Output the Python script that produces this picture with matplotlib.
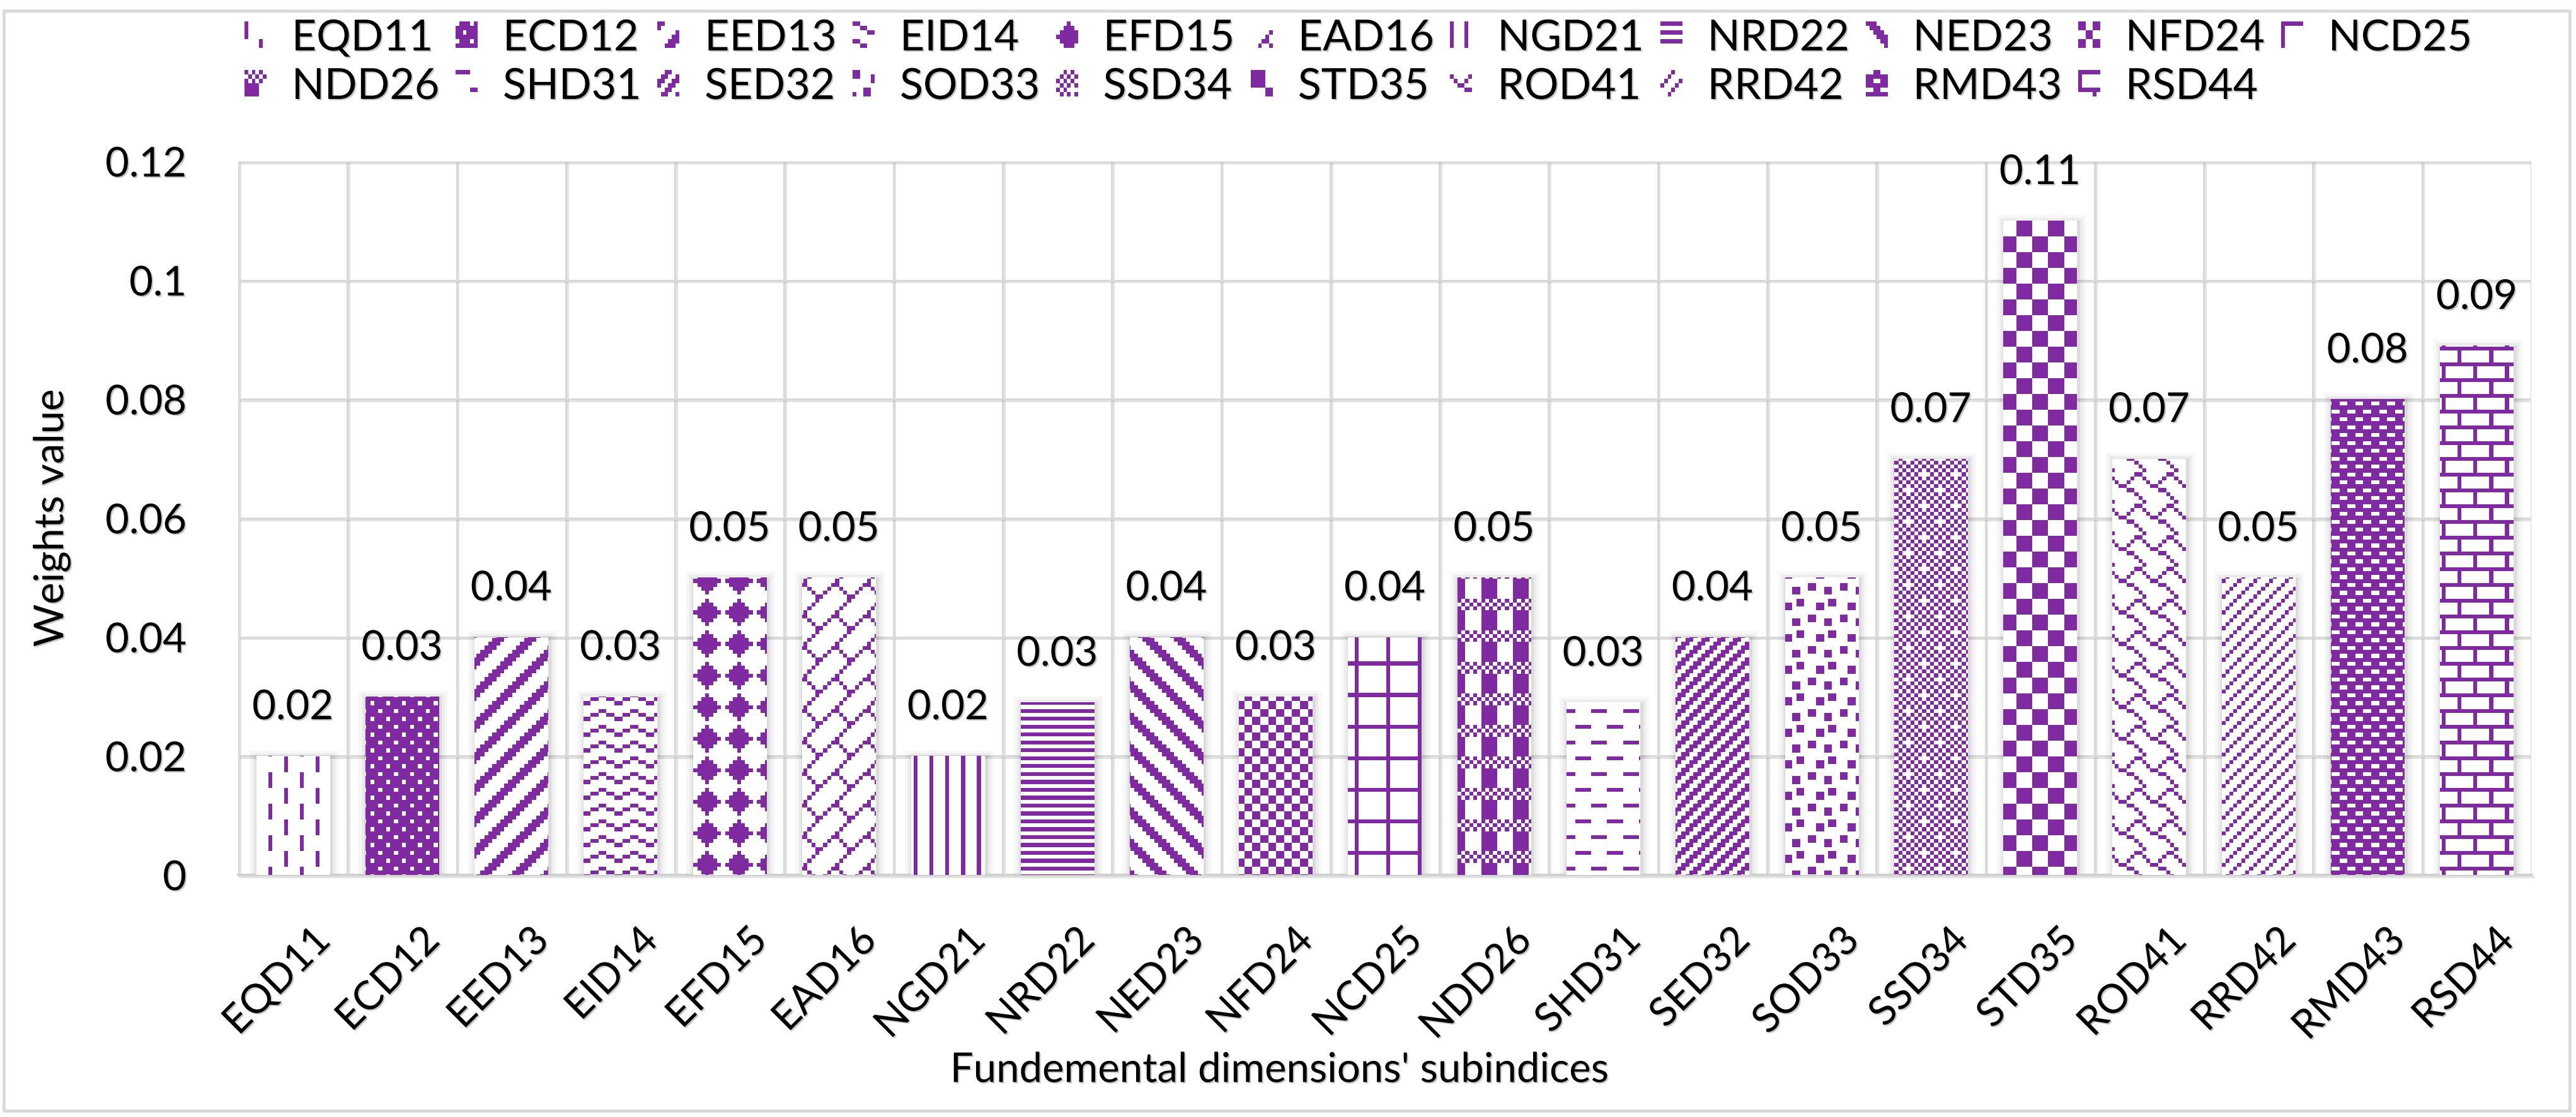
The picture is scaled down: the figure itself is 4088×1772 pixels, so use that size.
import math
import numpy as np
import matplotlib
matplotlib.use('Agg')
import matplotlib.pyplot as plt
import matplotlib.patheffects as pe
from matplotlib.patches import Rectangle
from matplotlib.legend_handler import HandlerBase
from matplotlib.image import BboxImage
from matplotlib.transforms import Bbox, TransformedBbox, ScaledTranslation

plt.rcParams['font.family'] = ['Lato', 'DejaVu Sans']

# data
subindices = ['EQD11', 'ECD12', 'EED13', 'EID14', 'EFD15', 'EAD16',
              'NGD21', 'NRD22', 'NED23', 'NFD24', 'NCD25', 'NDD26',
              'SHD31', 'SED32', 'SOD33', 'SSD34', 'STD35',
              'ROD41', 'RRD42', 'RMD43', 'RSD44']
weights = [0.02, 0.03, 0.04, 0.03, 0.05, 0.05,
           0.02, 0.029, 0.04, 0.03, 0.04, 0.05,
           0.029, 0.04, 0.05, 0.07, 0.11,
           0.07, 0.05, 0.08, 0.089]
ytick_values = [0, 0.02, 0.04, 0.06, 0.08, 0.1, 0.12]
ytick_labels = ['0', '0.02', '0.04', '0.06', '0.08', '0.1', '0.12']

PURPLE = np.array([0x7f, 0x2a, 0xa0]) / 255
WHITE = np.array([1.0, 1.0, 1.0])
GRID = '#d9d9d9'
PIX = 6.25  # one pattern pixel, in output pixels

# 8x8 pattern fills, '#' = purple
patterns = {
    'EQD11': ['#.......', '#.......', '#.......', '#.......',
              '....#...', '....#...', '....#...', '....#...'],
    'ECD12': ['.###.###', '########', '##.###.#', '########',
              '.###.###', '########', '##.###.#', '########'],
    'EED13': ['##.....#', '#.....##', '.....###', '....###.',
              '...###..', '..###...', '.###....', '###.....'],
    'EID14': ['##......', '..##..##', '....##..', '........',
              '##......', '..##..##', '....##..', '........'],
    'EFD15': ['...#....', '..###...', '.#####..', '#######.',
              '.#####..', '..###...', '...#....', '........'],
    'EAD16': ['.......#', '......#.', '.....#..', '....#...',
              '...##...', '..#..#..', '.#....#.', '#......#'],
    'NGD21': ['#...#...'] * 8,
    'NRD22': ['########', '........'] * 4,
    'NED23': ['###.....', '.###....', '..###...', '...###..',
              '....###.', '.....###', '#.....##', '##.....#'],
    'NFD24': ['##..##..', '##..##..', '..##..##', '..##..##'] * 2,
    'NCD25': ['########'] + ['#.......'] * 7,
    'NDD26': ['#.#.#.#.', '.#.#.#.#', '#.#.#.#.', '####....',
              '####....', '####....', '####....', '####....'],
    'SHD31': ['####....', '........', '........', '........',
              '....####', '........', '........', '........'],
    'SED32': ['..##..##', '.##..##.', '##..##..', '#..##..#'] * 2,
    'SOD33': ['##......', '##...##.', '.....##.', '........',
              '...##...', '#..##..#', '#......#', '........'],
    'SSD34': ['..#.#.#.', '.#.#.#.#', '#.#.#.#.', '.#.#.#.#',
              '#.#...#.', '.#.#.#.#', '#.#.#.#.', '.#.#.#.#'],
    'STD35': ['####....'] * 4 + ['....####'] * 4,
    'ROD41': ['......##', '#....#..', '.#..#...', '..##....',
              '....##..', '......#.', '.......#', '#.......'],
    'RRD42': ['...#...#', '..#...#.', '.#...#..', '#...#...'] * 2,
    'RMD43': ['..##..##', '########', '##..##..', '########'] * 2,
    'RSD44': ['########', '#.......', '#.......', '#.......',
              '########', '....#...', '....#...', '....#...'],
}


def pattern_rgb(name, r0, r1, c0, c1):
    mask = np.array([[ch == '#' for ch in row] for row in patterns[name]])
    sub = mask[np.ix_(np.arange(r0, r1) % 8, np.arange(c0, c1) % 8)]
    return np.where(sub[..., None], PURPLE, WHITE)


class PatternHandler(HandlerBase):
    def create_artists(self, legend, orig_handle, xdescent, ydescent,
                       width, height, fontsize, trans):
        bb = TransformedBbox(Bbox.from_bounds(-xdescent, -ydescent, width, height), trans)
        img = BboxImage(bb, interpolation='nearest')
        img.set_data(pattern_rgb(orig_handle.get_label(), 0, 6, 0, 6))
        return [img]


text_shadow = [pe.withSimplePatchShadow(offset=(1.5, -1.5), shadow_rgbFace='#808080', alpha=0.45)]
bar_shadow = [pe.Stroke(offset=(1, -2), linewidth=18, foreground='k', alpha=0.03),
              pe.Stroke(offset=(1, -2), linewidth=11, foreground='k', alpha=0.045),
              pe.Stroke(offset=(1, -2), linewidth=5, foreground='k', alpha=0.07),
              pe.Normal()]

W, H = 4088, 1772
fig = plt.figure(figsize=(W / 100, H / 100), dpi=100)
ax = fig.add_axes([378 / W, 1 - 1388 / H, (4017 - 378) / W, (1388 - 256) / H])

x = np.arange(len(subindices))
bars = ax.bar(x, weights, width=0.67, color='white', linewidth=0, zorder=2)
for b in bars:
    b.set_path_effects(bar_shadow)

ax.set_xlim(-0.5, len(x) - 0.5)
ax.set_ylim(0, 0.12)
ax.set_autoscale_on(False)

# pattern fills clipped to each bar
inv = ax.transData.inverted()
for rect, name in zip(bars, subindices):
    (X0, Y0), (X1, Y1) = ax.transData.transform(
        [(rect.get_x(), 0), (rect.get_x() + rect.get_width(), rect.get_height())])
    c0, c1 = int(math.floor(X0 / PIX)), int(math.ceil(X1 / PIX))
    r0, r1 = int(math.floor((H - Y1) / PIX)), int(math.ceil((H - Y0) / PIX))
    xl, yt = inv.transform((c0 * PIX, H - r0 * PIX))
    xr, yb = inv.transform((c1 * PIX, H - r1 * PIX))
    im = ax.imshow(pattern_rgb(name, r0, r1, c0, c1), extent=(xl, xr, yb, yt),
                   origin='upper', interpolation='nearest', aspect='auto', zorder=3)
    im.set_clip_path(rect)

ax.set_xlim(-0.5, len(x) - 0.5)
ax.set_ylim(0, 0.12)

# data labels
for rect, w in zip(bars, weights):
    t = ax.annotate(f'{w:.2f}', (rect.get_x() + rect.get_width() / 2, rect.get_height()),
                    xytext=(0, 42), textcoords='offset points', ha='center', va='baseline',
                    fontsize=47, color='black', zorder=5)
    t.set_path_effects(text_shadow)

# grid and axes
ax.tick_params(axis='both', which='both', length=0)
ax.tick_params(axis='y', pad=59)
ax.tick_params(axis='x', pad=68)
ax.set_xticks(x)
ax.set_xticks(np.arange(-0.5, len(x)), minor=True)
ax.set_yticks(ytick_values)
ax.set_yticklabels(ytick_labels, fontsize=47)
ax.set_xticklabels(subindices, fontsize=46, rotation=45, ha='right', va='center',
                   rotation_mode='anchor')
shift = ScaledTranslation(50 / 100, 0, fig.dpi_scale_trans)
for lab in ax.get_xticklabels():
    lab.set_transform(lab.get_transform() + shift)
    lab.set_path_effects(text_shadow)
for lab in ax.get_yticklabels():
    lab.set_path_effects(text_shadow)
ax.set_axisbelow(True)
grid_shadow = [pe.SimpleLineShadow(offset=(2, -2), shadow_color='#b0b0b0', alpha=0.35), pe.Normal()]
ax.grid(which='minor', axis='x', color=GRID, linewidth=2.2, path_effects=grid_shadow)
ax.grid(which='major', axis='y', color=GRID, linewidth=2.2, path_effects=grid_shadow)
ax.grid(which='major', axis='x', visible=False)
for s in ['top', 'right', 'left']:
    ax.spines[s].set_visible(False)
ax.spines['bottom'].set_color('#d0d0d0')
ax.spines['bottom'].set_linewidth(3)
ax.spines['bottom'].set_path_effects(grid_shadow)

fig.text(82 / W, 1 - 822 / H, 'Weights value', rotation=90, ha='center', va='center',
         fontsize=47, path_effects=text_shadow)
fig.text(2030 / W, 1 - 1698 / H, "Fundemental dimensions' subindices", ha='center',
         va='center', fontsize=47, path_effects=text_shadow)

# legend, filled column-wise so rows read left to right
handles = [Rectangle((0, 0), 1, 1, label=n) for n in subindices]
order = []
for k in range(10):
    order += [k, 11 + k]
order.append(10)
leg = fig.legend(handles=[handles[i] for i in order], labels=[subindices[i] for i in order],
                 ncol=11, loc='upper left', bbox_to_anchor=(388 / W, 1 - 30 / H),
                 frameon=False, fontsize=49, handlelength=0.5, handleheight=0.55,
                 handletextpad=0.6, columnspacing=0.38, labelspacing=0.22,
                 borderpad=0, borderaxespad=0, handler_map={Rectangle: PatternHandler()})
for t in leg.get_texts():
    t.set_path_effects(text_shadow)

# chart area border
fig.patches.append(Rectangle((6 / W, 1 - 1762 / H), (4078 - 6) / W, (1762 - 17) / H,
                             transform=fig.transFigure, fill=False, edgecolor=GRID,
                             linewidth=3.5))

fig.savefig('out.png', dpi=100)
